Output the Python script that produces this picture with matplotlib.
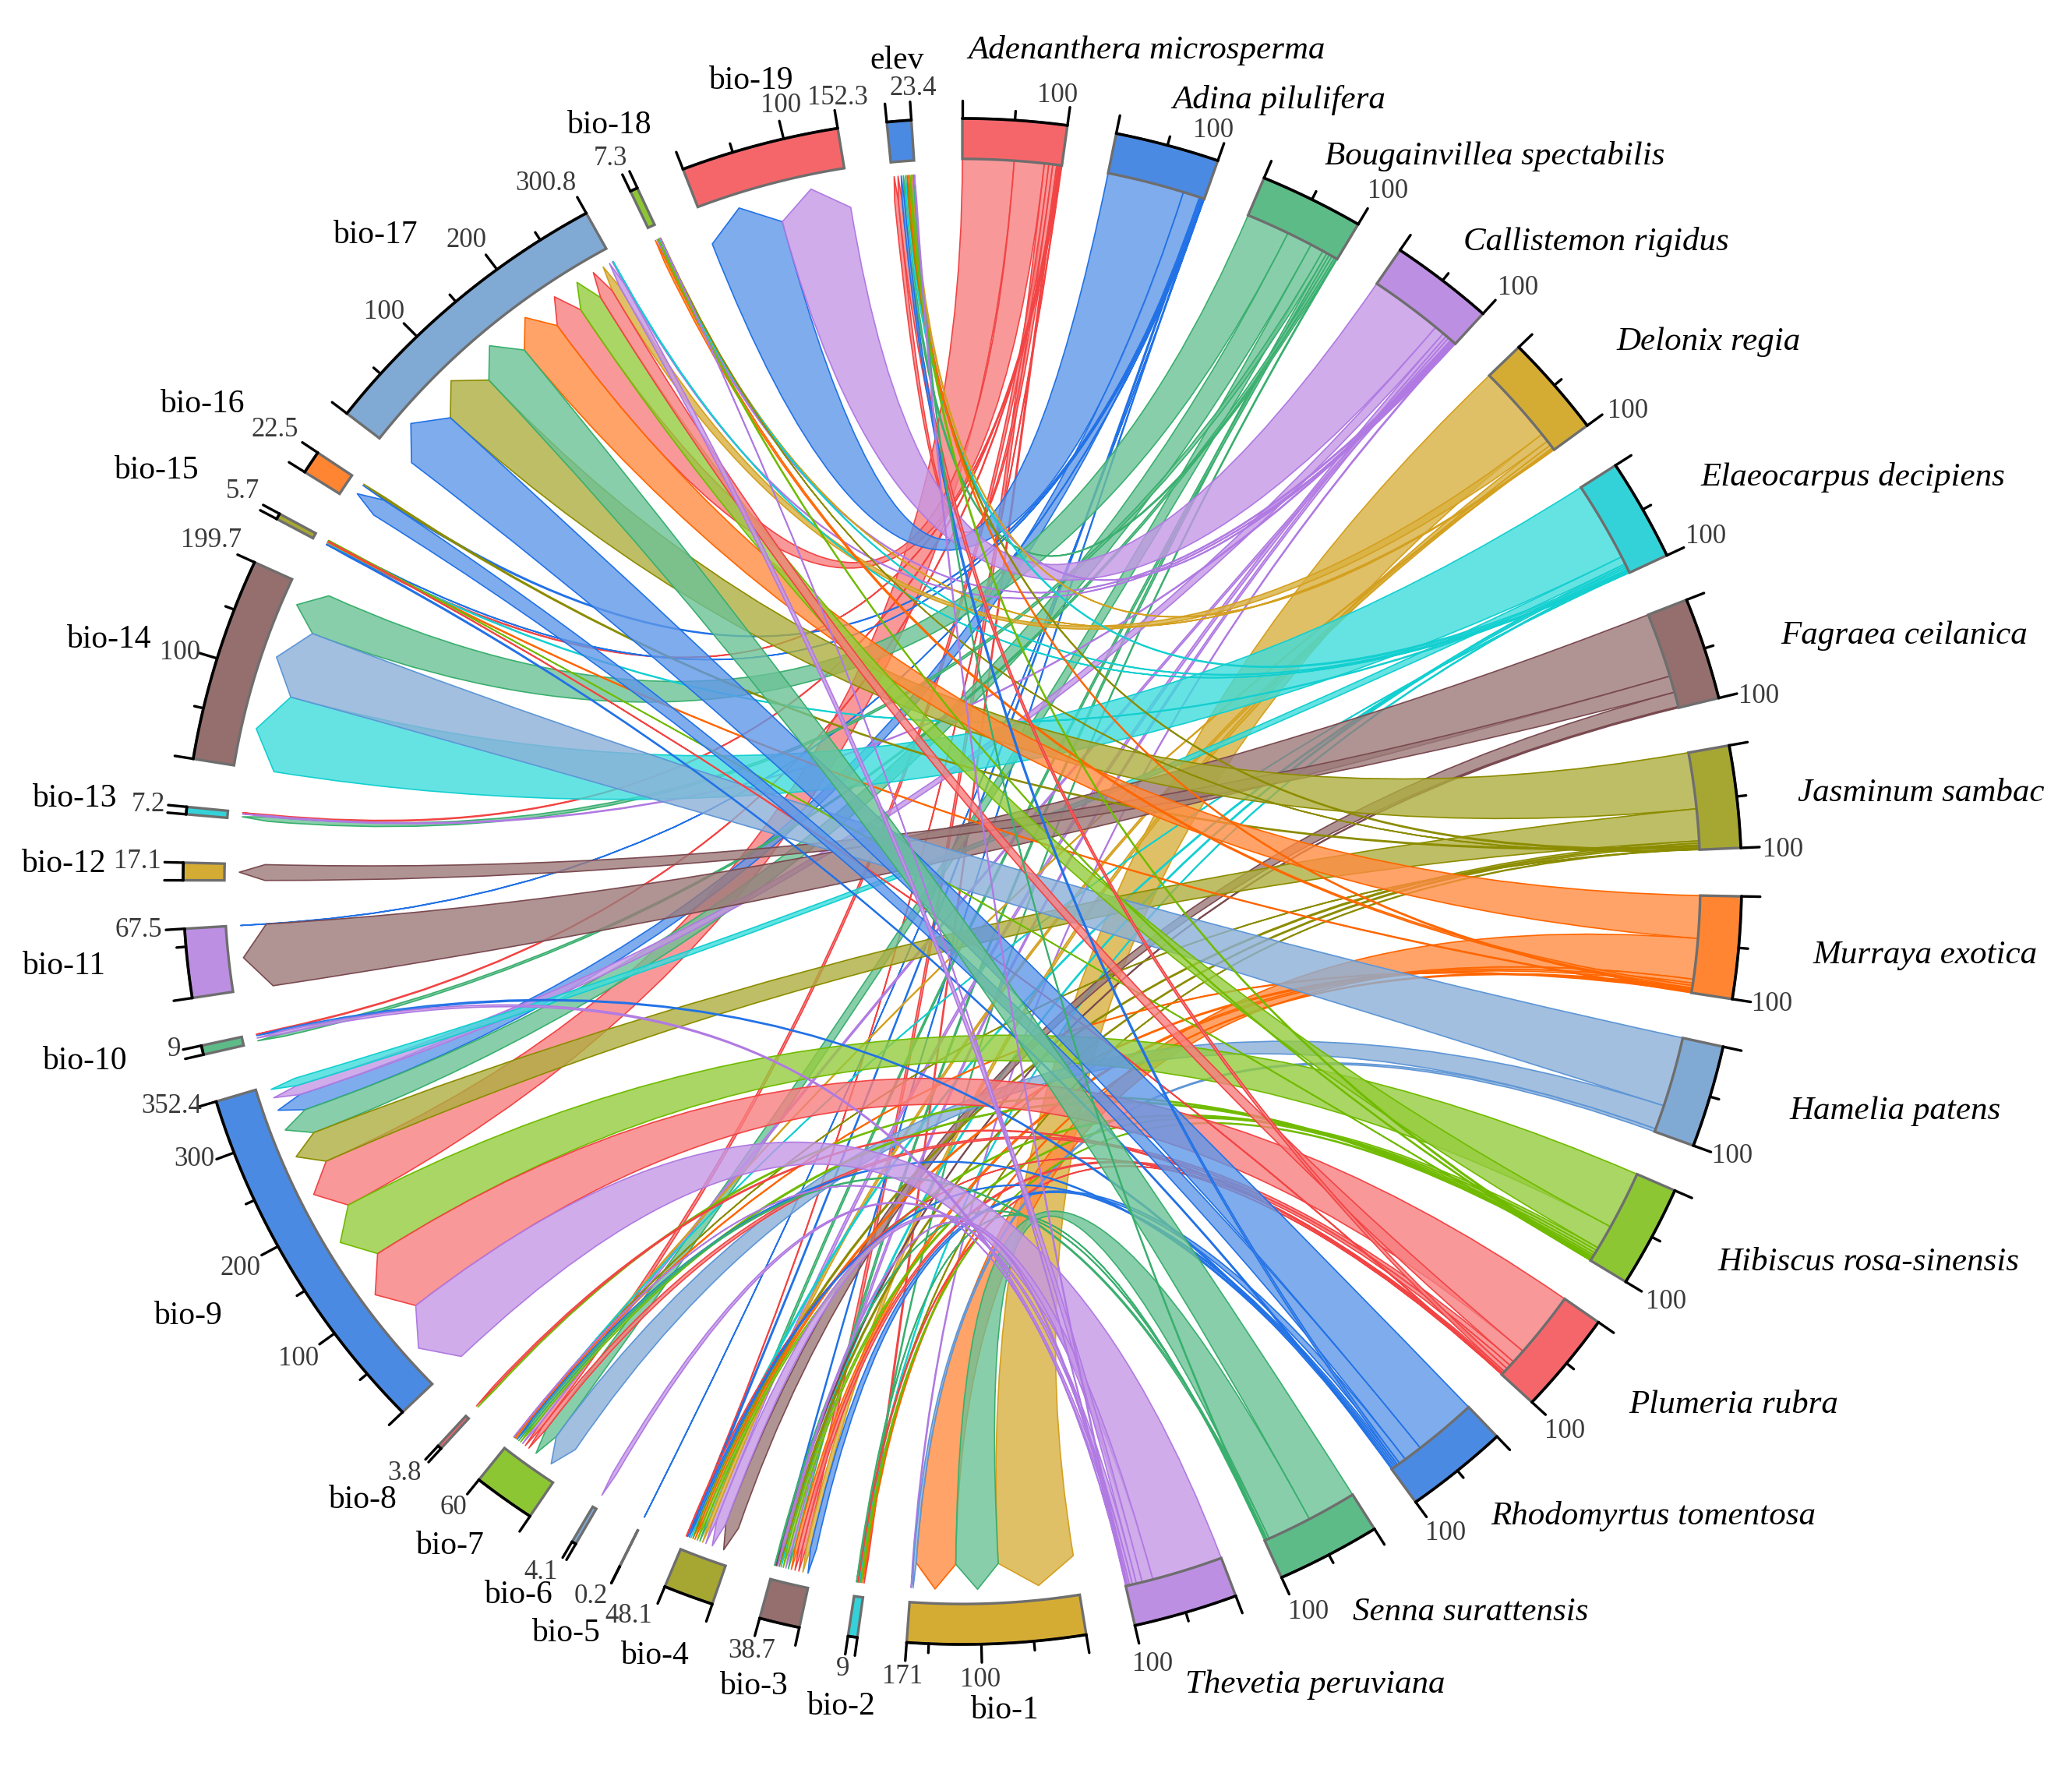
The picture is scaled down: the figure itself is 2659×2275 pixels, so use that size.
import numpy as np
import matplotlib
matplotlib.use("Agg")
import matplotlib.pyplot as plt
from matplotlib.path import Path
from matplotlib.patches import PathPatch, Polygon
from matplotlib.colors import to_rgba

species = ["Adenanthera microsperma", "Adina pilulifera", "Bougainvillea spectabilis",
           "Callistemon rigidus", "Delonix regia", "Elaeocarpus decipiens", "Fagraea ceilanica",
           "Jasminum sambac", "Murraya exotica", "Hamelia patens", "Hibiscus rosa-sinensis",
           "Plumeria rubra", "Rhodomyrtus tomentosa", "Senna surattensis", "Thevetia peruviana"]
variables = ["bio-%d" % i for i in range(1, 20)] + ["elev"]
var_totals = [171, 9, 38.7, 48.1, 0.2, 4.1, 60, 3.8, 352.4, 9, 67.5, 17.1, 7.2, 199.7, 5.7, 22.5,
              300.8, 7.3, 152.3, 23.4]
species_totals = [100] * 15

#            b1    b2   b3    b4    b5   b6   b7   b8   b9    b10  b11   b12   b13  b14  b15  b16   b17   b18  b19  elev
aden = [0,   1.5, 4.5,  0.6,  0,   0,   4,   0,   52,   1,   0,    0,    1,   0,   1,   0,    30.4, 0,   0,   4]
adin = [0,   0,   1,    1.5,  0.2, 0,   0,   0,   17,   0,   0.3,  0,    0,   0,   0.5, 1.5,  0,    0,   78,  0]
boug = [0,   1,   3,    3,    0,   0,   13.5, 0,  26,   3,   0,    0,    4.5, 44,  0,   0,    0,    0,   0,   2]
call = [1,   0,   3,    4,    0,   0,   3,   0,   10,   0,   0,    0,    1.2, 0,   0,   0,    1,    1.4, 74,  1.4]
delo = [80,  0,   5,    3.5,  0,   0,   1,   0,   0,    0,   0,    0,    0,   0,   0,   0,    9,    0.5, 0,   1]
elae = [0,   1,   2,    2,    0,   0,   0.5, 0,   8,    0,   0,    0,    0,   82,  1,   0,    0.5,  1,   0,   2]
fagr = [0,   0,   1.2,  15.2, 0,   0,   0,   0,   0,    0,   66.5, 17.1, 0,   0,   0,   0,    0,    0,   0,   0]
jasm = [0,   0.8, 2,    2.3,  0,   0,   0.5, 0,   33,   0,   0,    0,    0,   0,   0,   1.5,  58,   0.4, 0,   1.5]
murr = [42,  1.5, 4,    2.5,  0,   0,   1,   0,   0,    0,   0,    0,    0,   0,   1,   0,    44,   2.5, 0,   1.5]
hame = [3,   0,   0,    0,    0,   0,   25,  0,   0,    0,   0,    0,    0,   72,  0,   0,    0,    0,   0,   0]
hibi = [0,   1.5, 3,    3,    0,   0,   2.5, 1.9, 60,   0,   0,    0,    0,   0,   0.5, 0,    25,   1.1, 0,   1.5]
plum = [0,   1,   4.5,  0.5,  0,   0,   5,   1.9, 68,   0,   0,    0,    0,   0,   0.7, 0,    14.4, 0,   0,   4]
rhod = [0,   0,   7,    2,    0,   0,   2,   0,   0,    2,   0,    0,    0,   0,   1.5, 19,   64,   0,   0,   2.5]
senn = [45,  0.7, 1,    0,    0,   0,   2.3, 0,   0,    0,   0,    0,    0,   0,   0,   0,    50,   0,   0,   1]
thev = [0,   0,   1.9,  11,   0,   4.1, 0.5, 0,   72,   3,   0,    0,    0,   0,   0,   0,    6,    0.5, 0,   1]
rows = [aden, adin, boug, call, delo, elae, fagr, jasm, murr, hame, hibi, plum, rhod, senn, thev]

sector_cycle = ["#F5666A", "#4A8AE3", "#5DBB88", "#BD8FE3", "#D5AC33", "#33D2D8", "#956E6E",
                "#A6A633", "#FF8533", "#80A9D4", "#8CC733"]
edge_cycle = ["#F24444", "#2272E6", "#3AAF6E", "#B07AE2", "#D4A020", "#14CFD0", "#7A4A50",
              "#8C8C00", "#FF6600", "#5E96D6", "#70BB00"]
fill_cycle = ["#F87E80", "#5F97E8", "#6CC296", "#C597E6", "#D9B140", "#3FDCDC", "#9C7A7A",
              "#AEAE40", "#FF8C42", "#8BB0D8", "#95CC3E"]

# label positions, in the coordinates of the 1568-wide view
species_xy = [(868, 38), (968, 76), (1131, 118), (1208, 183), (1293, 259), (1402, 361), (1441, 481),
              (1454, 600), (1457, 723), (1434, 841), (1414, 955), (1312, 1063), (1251, 1147),
              (1113, 1220), (995, 1275)]
var_xy = [(760, 1294), (636, 1291), (570, 1276), (495, 1253), (428, 1236), (392, 1207), (340, 1170),
          (274, 1135), (142, 996), (64, 803), (48, 731), (48, 654), (56, 604), (82, 484), (118, 356),
          (153, 306), (284, 178), (461, 95), (568, 61), (679, 46)]
species_100_xy = [(800, 72), (918, 99), (1050, 145), (1149, 218), (1232, 311), (1291, 406), (1331, 527),
                  (1349, 643), (1341, 760), (1311, 875), (1261, 985), (1184, 1083), (1094, 1160),
                  (990, 1220), (872, 1259)]
var_tick_xy = {
    "elev": {23.4: (691, 67)},
    "bio-19": {152.3: (634, 74), 100: (591, 80)},
    "bio-18": {7.3: (462, 120)},
    "bio-17": {300.8: (413, 139), 200: (353, 182), 100: (291, 236)},
    "bio-16": {22.5: (208, 325)},
    "bio-15": {5.7: (184, 372)},
    "bio-14": {199.7: (160, 409), 100: (136, 494)},
    "bio-13": {7.2: (112, 609)},
    "bio-12": {17.1: (104, 652)},
    "bio-11": {67.5: (105, 704)},
    "bio-10": {9: (132, 794)},
    "bio-9": {352.4: (130, 837), 300: (147, 877), 200: (182, 960), 100: (226, 1028)},
    "bio-8": {3.8: (306, 1115)},
    "bio-7": {60: (343, 1141)},
    "bio-6": {4.1: (409, 1190)},
    "bio-5": {0.2: (447, 1208)},
    "bio-4": {48.1: (476, 1223)},
    "bio-3": {38.7: (569, 1249)},
    "bio-2": {9: (638, 1263)},
    "bio-1": {171: (683, 1269), 100: (742, 1271)},
}
SH = 2659 / 1568

CX, CY, RX, RY = 1235, 1131, 1000, 979
UNIT, GAP = 0.0775, 3.64
R_OUT, R_IN, R_SH, R_TIP = 1.0, 0.947, 0.895, 0.928


def P(th, r):
    t = np.radians(th)
    return (CX + RX * r * np.sin(t), CY - RY * r * np.cos(t))


def arc(a, b, r, n=None):
    n = n or max(2, int(abs(b - a) / 0.5) + 2)
    return [P(t, r) for t in np.linspace(a, b, n)]


plt.rcParams["font.family"] = ["Liberation Serif", "DejaVu Serif"]
fig = plt.figure(figsize=(26.59, 22.75), dpi=100)
ax = fig.add_axes([0, 0, 1, 1])
ax.set_xlim(0, 2659)
ax.set_ylim(2275, 0)
ax.axis("off")

M = np.array(rows, dtype=float)
totals = species_totals + var_totals
names = species + variables
starts = []
th = 0.0
for t in totals:
    starts.append(th)
    th += t * UNIT + GAP
n_s = len(species)

# link positions: within a sector the links run from largest to smallest, clockwise
s_pos = {}
for i in range(n_s):
    order = sorted([j for j in range(M.shape[1]) if M[i, j] > 0], key=lambda j: -M[i, j])
    a = starts[i]
    k = species_totals[i] / M[i].sum()
    for j in order:
        w = M[i, j] * k * UNIT
        s_pos[(i, j)] = (a, a + w)
        a += w
v_pos = {}
for j in range(M.shape[1]):
    order = sorted([i for i in range(n_s) if M[i, j] > 0], key=lambda i: -M[i, j])
    a = starts[n_s + j]
    k = var_totals[j] / M[:, j].sum()
    for i in order:
        w = M[i, j] * k * UNIT
        v_pos[(i, j)] = (a, a + w)
        a += w

# chords
for i in range(n_s):
    col = i % 11
    for j in sorted(range(M.shape[1]), key=lambda j: -M[i, j]):
        if M[i, j] <= 0:
            continue
        a1, a2 = s_pos[(i, j)]
        b1, b2 = v_pos[(i, j)]
        verts = arc(a1, a2, R_IN)
        codes = [Path.MOVETO] + [Path.LINETO] * (len(verts) - 1)
        verts += [(CX, CY), P(b1, R_SH), P((b1 + b2) / 2, R_TIP), P(b2, R_SH), (CX, CY), P(a1, R_IN), P(a1, R_IN)]
        codes += [Path.CURVE3, Path.CURVE3, Path.LINETO, Path.LINETO, Path.CURVE3, Path.CURVE3, Path.CLOSEPOLY]
        ax.add_patch(PathPatch(Path(verts, codes), facecolor=to_rgba(fill_cycle[col], 0.8),
                               edgecolor=edge_cycle[col], lw=1.2, joinstyle="round", zorder=2))

# sectors, ticks, labels
FS_TICK = 25
for idx, (name, total) in enumerate(zip(names, totals)):
    a = starts[idx]
    b = a + total * UNIT
    col = sector_cycle[idx % 11]
    pts = arc(a, b, R_OUT) + arc(b, a, R_IN)
    ax.add_patch(Polygon(pts, closed=True, facecolor=col, edgecolor="#6E6E6E", lw=2.4, zorder=3))
    out = np.array(arc(a, b, R_OUT))
    ax.plot(out[:, 0], out[:, 1], color="black", lw=2.6, zorder=4, solid_capstyle="round")

    ticks = [0.0]
    if total > 60:
        ticks += [float(v) for v in np.arange(50, total - 5, 50)]
    ticks.append(float(total))
    for v in ticks:
        t = a + v * UNIT
        major = v == total or v == 0 or abs(v % 100) < 1e-6
        p0, p1 = P(t, R_OUT), P(t, R_OUT + (0.024 if major else 0.012))
        ax.plot([p0[0], p1[0]], [p0[1], p1[1]], color="black", lw=2.4, zorder=4, solid_capstyle="round")
        if v == 0 or not major:
            continue
        if idx < n_s:
            x, y = species_100_xy[idx]
        else:
            x, y = var_tick_xy[name][round(v, 1) if v % 1 else int(v)]
        ax.text(x * SH, y * SH, "%g" % v, fontsize=FS_TICK, color="#3A3A3A", ha="center", va="center", zorder=5)

for nm, (x, y) in zip(species, species_xy):
    ax.text(x * SH, y * SH, nm, fontsize=31, style="italic", color="black", ha="center", va="center")
for nm, (x, y) in zip(variables, var_xy):
    ax.text(x * SH, y * SH, nm, fontsize=30, color="black", ha="center", va="center")

fig.savefig("out.png", dpi=100, facecolor="white")
